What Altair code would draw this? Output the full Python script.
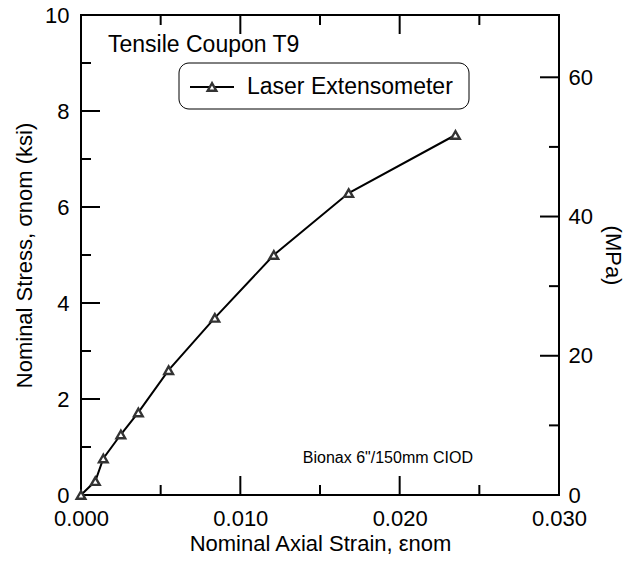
import altair as alt
import pandas as pd

# ---- data ----
strain = [0.0, 0.0009, 0.0014, 0.0025, 0.0036, 0.0055, 0.0084, 0.0121, 0.0168, 0.0235]
stress_ksi = [0.0, 0.29, 0.76, 1.26, 1.72, 2.60, 3.69, 5.00, 6.29, 7.50]

x_labels = [0.0, 0.010, 0.020, 0.030]
x_minor = [0.005, 0.015, 0.025]
x_major = [0.010, 0.020]
y_labels = [0, 2, 4, 6, 8, 10]
y_minor = [1, 3, 5, 7, 9]
y_major = [2, 4, 6, 8]
mpa_labels = [0, 20, 40, 60]
mpa_minor = [10, 30, 50]
mpa_major = [20, 40, 60]

series_name = ["Laser Extensometer"]
note_title = ["Tensile Coupon T9"]
note_spec = ['Bionax 6"/150mm CIOD']
x_title = "Nominal Axial Strain, \u03b5nom"
y_title = "Nominal Stress, \u03c3nom (ksi)"
y2_title = "(MPa)"

KSI_TO_MPA = 6.894757
W, H = 478, 480
FONT = "Liberation Sans"
MAJ, MIN = 19, 10

df = pd.DataFrame({"strain": strain, "stress": stress_ksi})
xs = alt.Scale(domain=[0, 0.03], nice=False, zero=False)
ys = alt.Scale(domain=[0, 10], nice=False, zero=False)

X_AX = alt.Axis(values=x_labels, format=".3f", title=x_title, ticks=False,
                domain=False, grid=False, labelPadding=13, titlePadding=4,
                labelFlush=False, labelOverlap=False)
Y_AX = alt.Axis(values=y_labels, format="d", title=y_title, ticks=False,
                domain=False, grid=False, labelPadding=12, titlePadding=8,
                labelFlush=False, labelOverlap=False)

line = alt.Chart(df).mark_line(color="black", strokeWidth=2).encode(
    x=alt.X("strain:Q", scale=xs, axis=X_AX),
    y=alt.Y("stress:Q", scale=ys, axis=Y_AX),
)
pts = alt.Chart(df).mark_point(shape="triangle-up", size=75, filled=False,
                               fill="white", fillOpacity=1, color="#333333",
                               strokeWidth=2.4, opacity=1).encode(
    x=alt.X("strain:Q", scale=xs, axis=X_AX),
    y=alt.Y("stress:Q", scale=ys, axis=Y_AX),
)

def xticks(vals, length):
    d = pd.DataFrame({"strain": vals})
    bot = alt.Chart(d).mark_rule(color="black", strokeWidth=2).encode(
        x=alt.X("strain:Q", scale=xs, axis=X_AX), y=alt.value(H), y2=alt.value(H - length))
    top = alt.Chart(d).mark_rule(color="black", strokeWidth=2).encode(
        x=alt.X("strain:Q", scale=xs, axis=X_AX), y=alt.value(0), y2=alt.value(length))
    return [bot, top]

def lticks(vals, length):
    d = pd.DataFrame({"stress": vals})
    return alt.Chart(d).mark_rule(color="black", strokeWidth=2).encode(
        y=alt.Y("stress:Q", scale=ys, axis=Y_AX), x=alt.value(0), x2=alt.value(length))

def rticks(vals, length):
    d = pd.DataFrame({"m": vals})
    return alt.Chart(d).transform_calculate(stress=f"datum.m / {KSI_TO_MPA}").mark_rule(
        color="black", strokeWidth=2).encode(
        y=alt.Y("stress:Q", scale=ys, axis=Y_AX), x=alt.value(W), x2=alt.value(W - length))

one = lambda txt: pd.DataFrame({"t": txt})

title_txt = alt.Chart(one(note_title)).mark_text(
    align="left", baseline="alphabetic", font=FONT, fontSize=23, color="black").encode(
    text="t:N", x=alt.value(27), y=alt.value(37))

leg_box = alt.Chart(one(series_name)).mark_rect(
    fill="white", stroke="black", strokeWidth=1, cornerRadius=10).encode(
    x=alt.value(98), x2=alt.value(388), y=alt.value(48), y2=alt.value(94))
leg_line = alt.Chart(one(series_name)).mark_rule(color="black", strokeWidth=2).encode(
    x=alt.value(109), x2=alt.value(153), y=alt.value(72))
leg_pt = alt.Chart(one(series_name)).mark_point(
    shape="triangle-up", size=75, fill="white", fillOpacity=1, color="#333333",
    strokeWidth=2.4, opacity=1).encode(x=alt.value(131), y=alt.value(72))
leg_txt = alt.Chart(one(series_name)).mark_text(
    align="left", baseline="alphabetic", font=FONT, fontSize=23, color="black").encode(
    text="t:N", x=alt.value(166), y=alt.value(79))

spec_txt = alt.Chart(one(note_spec)).mark_text(
    align="right", baseline="alphabetic", font=FONT, fontSize=16, color="black").encode(
    text="t:N", x=alt.value(392), y=alt.value(448))

inner = alt.layer(
    *xticks(x_minor, MIN), *xticks(x_major, MAJ),
    lticks(y_minor, MIN), lticks(y_major, MAJ),
    rticks(mpa_minor, MIN), rticks(mpa_major, MAJ),
    line, pts,
    title_txt, leg_box, leg_line, leg_pt, leg_txt, spec_txt,
)

mpa_df = pd.DataFrame({"mpa": mpa_labels})
mpa_axis = alt.Chart(mpa_df).mark_point(opacity=0).encode(
    y=alt.Y("mpa:Q", scale=alt.Scale(domain=[0, 10 * KSI_TO_MPA], nice=False, zero=False),
            axis=alt.Axis(orient="right", values=mpa_labels, format="d", title=y2_title,
                          ticks=False, domain=False, grid=False, labelPadding=9,
                          titlePadding=8, labelFlush=False, labelOverlap=False)),
)

chart = alt.layer(inner, mpa_axis).resolve_scale(y="independent").properties(
    width=W, height=H,
    autosize=alt.AutoSizeParams(type="none"),
    padding={"left": 81, "top": 15, "right": 69, "bottom": 73},
    background="white",
).configure_view(stroke="black", strokeWidth=2).configure_axis(
    labelFont=FONT, titleFont=FONT, labelFontSize=22, titleFontSize=22,
    labelColor="black", titleColor="black", titleFontWeight="normal",
)

chart.save("out.html", embed_options={"renderer": "svg", "actions": False})
